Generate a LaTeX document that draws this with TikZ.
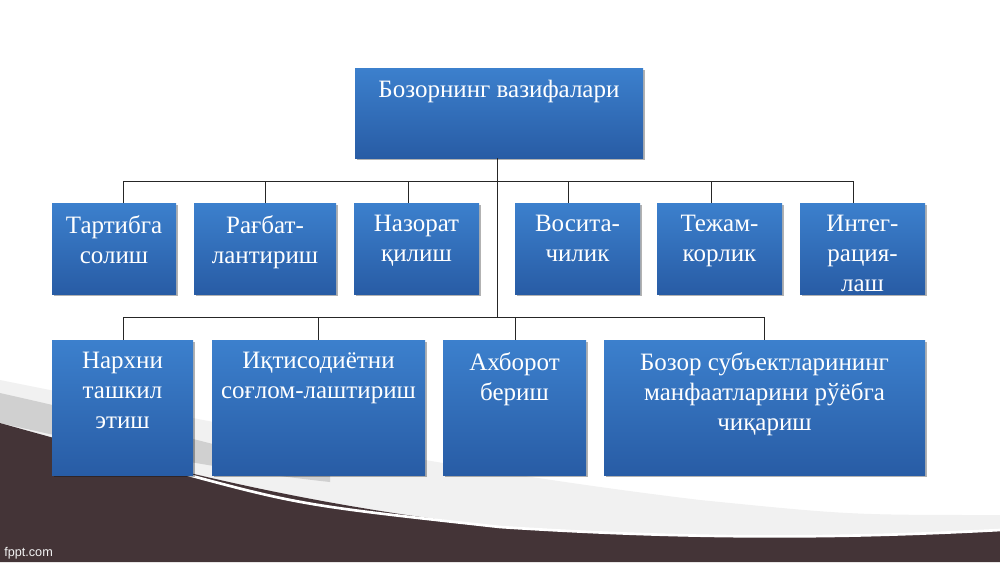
\documentclass[tikz,border=0pt]{standalone}
\usepackage{fontspec}
\setmainfont{Liberation Serif}
\newfontfamily\fpptfont{Liberation Sans}
\usetikzlibrary{shadows}
\definecolor{boxtop}{RGB}{60,128,205}
\definecolor{boxbot}{RGB}{40,92,165}
\definecolor{darkbg}{RGB}{68,52,55}
\definecolor{grayband}{RGB}{208,208,208}
\definecolor{lightband}{RGB}{241,241,241}
\newlength\pxu
\setlength\pxu{0.75pt}
\newcommand\bt[3]{\parbox[c][#2\pxu][t]{#1\pxu}{\centering\vspace*{12.5\pxu}#3}}
\tikzset{
  funcbox/.style={rectangle, inner sep=0pt, outer sep=0pt, anchor=north west,
    top color=boxtop, bottom color=boxbot, text=white,
    font=\fontsize{18.75pt}{22.5pt}\selectfont,
    drop shadow={shadow xshift=1.3pt, shadow yshift=-1.5pt, opacity=0.3, fill=black}},
  conn/.style={draw=black!85, line width=0.7pt},
}
\begin{document}
\begin{tikzpicture}[x=0.75pt, y=-0.75pt]
\useasboundingbox (0,0) rectangle (1000,562);
\fill[white] (0,0) rectangle (1000,562);
% background swoosh
\fill[lightband] (0,380) .. controls (200,420) and (450,470) .. (700,500)
  .. controls (850,515) .. (1000,515) -- (1000,532) .. controls (850,540) and (700,538) .. (500,527)
  .. controls (300,505) and (150,465) .. (0,423) -- cycle;
\fill[grayband] (0,393) .. controls (120,420) and (220,445) .. (330,475)
  -- (330,482) .. controls (220,470) and (120,450) .. (0,423) -- cycle;
\fill[darkbg] (0,423) .. controls (150,465) and (300,505) .. (500,527)
  .. controls (700,540) and (850,538) .. (1000,530) -- (1000,562) -- (0,562) -- cycle;
\draw[white, line width=2pt] (170,470) .. controls (300,505) .. (500,527)
  .. controls (700,540) and (850,538) .. (1000,530);
\node[font=\fpptfont\fontsize{9.5pt}{11pt}\selectfont, text=white!90!gray, anchor=west, inner sep=0pt] (fppt) at (4,553) {fppt.com};

% top box
\node[funcbox] (top) at (355,68) {\bt{288}{90}{Бозорнинг вазифалари}};
% row 2
\node[funcbox] (b1) at (52,203) {\bt{124}{91}{Тартибга\\солиш}};
\node[funcbox] (b2) at (194,203) {\bt{142}{91}{Рағбат-\\лантириш}};
\node[funcbox] (b3) at (354,203) {\bt{125}{91}{Назорат\\қилиш}};
\node[funcbox] (b4) at (515,203) {\bt{125}{91}{Восита-\\чилик}};
\node[funcbox] (b5) at (657,203) {\bt{125}{91}{Тежам-\\корлик}};
\node[funcbox] (b6) at (800,203) {\bt{125}{91}{Интег-\\рация-\\лаш}};
% row 3
\node[funcbox] (r1) at (52,340) {\bt{141}{135}{Нархни\\ташкил\\этиш}};
\node[funcbox] (r2) at (212,340) {\bt{213}{135}{Иқтисодиётни\\соғлом-лаштириш}};
\node[funcbox] (r3) at (443,340) {\bt{143}{135}{Ахборот\\бериш}};
\node[funcbox] (r4) at (604,340) {\bt{321}{135}{Бозор субъектларининг\\манфаатларини рўёбга\\чиқариш}};

% bus coordinates
\coordinate (c0) at (497,181);
\coordinate (c1) at (123,181);
\coordinate (c2) at (265,181);
\coordinate (c3) at (408,181);
\coordinate (c4) at (568,181);
\coordinate (c5) at (711,181);
\coordinate (c6) at (853,181);
\coordinate (d0) at (497,317);
\coordinate (d1) at (123,317);
\coordinate (d2) at (318,317);
\coordinate (d3) at (515,317);
\coordinate (d4) at (764,317);

% connectors
\draw[conn] (top.south -| c0) -- (d0);
\draw[conn] (c1) -- (c6);
\draw[conn] (c1) -- (c1 |- b1.north);
\draw[conn] (c2) -- (c2 |- b2.north);
\draw[conn] (c3) -- (c3 |- b3.north);
\draw[conn] (c4) -- (c4 |- b4.north);
\draw[conn] (c5) -- (c5 |- b5.north);
\draw[conn] (c6) -- (c6 |- b6.north);
\draw[conn] (d1) -- (d4);
\draw[conn] (d1) -- (d1 |- r1.north);
\draw[conn] (d2) -- (d2 |- r2.north);
\draw[conn] (d3) -- (d3 |- r3.north);
\draw[conn] (d4) -- (d4 |- r4.north);
\end{tikzpicture}
\end{document}
